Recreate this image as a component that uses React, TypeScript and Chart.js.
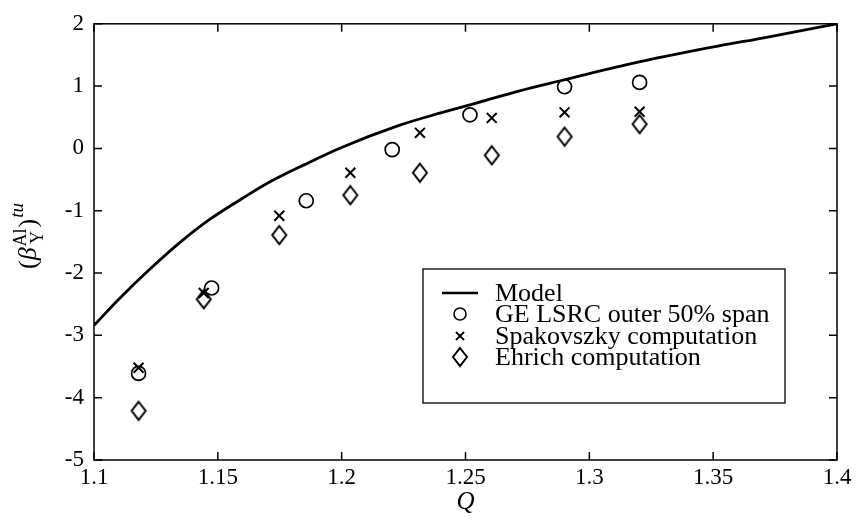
import React, { useEffect, useRef } from 'react';
import { Chart, registerables } from 'chart.js';
Chart.register(...registerables);

const modelQ = [1.1, 1.11, 1.1225, 1.135, 1.1467, 1.16, 1.1709, 1.185, 1.199, 1.2232, 1.24, 1.2554, 1.2715, 1.2888, 1.317, 1.349, 1.371, 1.4];
const modelBeta = [-2.84, -2.42, -1.94, -1.5, -1.14, -0.8, -0.54, -0.26, 0.0, 0.37, 0.57, 0.74, 0.92, 1.09, 1.36, 1.62, 1.78, 2.0];

const geQ = [1.118, 1.1475, 1.1857, 1.2204, 1.2518, 1.29, 1.3203];
const geBeta = [-3.61, -2.24, -0.84, -0.02, 0.54, 0.99, 1.06];

const spakQ = [1.118, 1.1443, 1.1748, 1.2035, 1.2316, 1.2606, 1.29, 1.3203];
const spakBeta = [-3.52, -2.32, -1.08, -0.39, 0.25, 0.49, 0.58, 0.59];

const ehrichQ = [1.118, 1.1443, 1.1748, 1.2035, 1.2316, 1.2606, 1.29, 1.3203];
const ehrichBeta = [-4.21, -2.42, -1.39, -0.75, -0.39, -0.11, 0.19, 0.39];

const legendLabels = ['Model', 'GE LSRC outer 50% span', 'Spakovszky computation', 'Ehrich computation'];

const FONT = "'Liberation Serif', 'Times New Roman', serif";

function makeDiamond(): HTMLCanvasElement {
  const c = document.createElement('canvas');
  c.width = 18;
  c.height = 22;
  const g = c.getContext('2d')!;
  g.strokeStyle = '#000';
  g.lineWidth = 2;
  g.beginPath();
  g.moveTo(9, 2);
  g.lineTo(16, 11);
  g.lineTo(9, 20);
  g.lineTo(2, 11);
  g.closePath();
  g.stroke();
  return c;
}

export default function App() {
  const ref = useRef<HTMLCanvasElement | null>(null);
  useEffect(() => {
    document.body.style.margin = '0';
    const diamond = makeDiamond();
    const toPts = (xs: number[], ys: number[]) => xs.map((x, i) => ({ x, y: ys[i] }));

    const framePlugin = {
      id: 'frame',
      afterDraw(chart: any) {
        const { ctx, chartArea } = chart;
        const { left, right, top, bottom } = chartArea;
        const xs = chart.scales.x;
        const ys = chart.scales.y;
        ctx.save();
        ctx.strokeStyle = '#000';
        ctx.lineWidth = 1.5;
        ctx.strokeRect(left, top, right - left, bottom - top);
        const tl = 8;
        ctx.beginPath();
        xs.ticks.forEach((t: any) => {
          const p = xs.getPixelForValue(t.value);
          ctx.moveTo(p, bottom);
          ctx.lineTo(p, bottom - tl);
          ctx.moveTo(p, top);
          ctx.lineTo(p, top + tl);
        });
        ys.ticks.forEach((t: any) => {
          const p = ys.getPixelForValue(t.value);
          ctx.moveTo(left, p);
          ctx.lineTo(left + tl, p);
          ctx.moveTo(right, p);
          ctx.lineTo(right - tl, p);
        });
        ctx.stroke();

        // x-axis title
        ctx.fillStyle = '#000';
        ctx.font = `italic 25px ${FONT}`;
        ctx.textAlign = 'center';
        ctx.textBaseline = 'middle';
        ctx.fillText('Q', (left + right) / 2, 502);

        // y-axis title (rotated)
        ctx.save();
        ctx.translate(36, 236);
        ctx.rotate(-Math.PI / 2);
        const big = `26px ${FONT}`;
        const bigIt = `italic 26px ${FONT}`;
        const small = `18px ${FONT}`;
        const smallIt = `italic 19px ${FONT}`;
        ctx.textAlign = 'left';
        ctx.textBaseline = 'alphabetic';
        ctx.font = big;
        const wOpen = ctx.measureText('(').width;
        ctx.font = bigIt;
        const wBeta = ctx.measureText('β').width;
        ctx.font = small;
        const wAl = ctx.measureText('Al').width;
        const wY = ctx.measureText('Y').width;
        const wSub = Math.max(wAl, wY);
        ctx.font = big;
        const wClose = ctx.measureText(')').width;
        ctx.font = smallIt;
        const wTu = ctx.measureText('tu').width;
        const total = wOpen + wBeta + 1 + wSub + 1 + wClose + 1 + wTu;
        let x = -total / 2;
        ctx.font = big;
        ctx.fillText('(', x, 0);
        x += wOpen;
        ctx.font = bigIt;
        ctx.fillText('β', x, 0);
        x += wBeta + 1;
        ctx.font = small;
        ctx.fillText('Al', x, -10);
        ctx.fillText('Y', x + (wAl - wY) / 2, 7);
        x += wSub + 1;
        ctx.font = big;
        ctx.fillText(')', x, 0);
        x += wClose + 1;
        ctx.font = smallIt;
        ctx.fillText('tu', x, -13);
        ctx.restore();

        // legend
        const bx = 423, by = 269, bw = 362, bh = 134;
        ctx.lineWidth = 1.3;
        ctx.strokeRect(bx, by, bw, bh);
        const rows = [293, 314, 336, 357];
        const mx = 460;
        const tx = 495;
        ctx.lineWidth = 2.6;
        ctx.beginPath();
        ctx.moveTo(442, rows[0]);
        ctx.lineTo(478, rows[0]);
        ctx.stroke();
        ctx.lineWidth = 1.6;
        ctx.beginPath();
        ctx.arc(mx, rows[1], 6, 0, Math.PI * 2);
        ctx.stroke();
        ctx.lineWidth = 1.8;
        ctx.beginPath();
        const cr = 4;
        ctx.moveTo(mx - cr, rows[2] - cr);
        ctx.lineTo(mx + cr, rows[2] + cr);
        ctx.moveTo(mx + cr, rows[2] - cr);
        ctx.lineTo(mx - cr, rows[2] + cr);
        ctx.stroke();
        ctx.drawImage(diamond, Math.round(mx - diamond.width / 2), Math.round(rows[3] - diamond.height / 2));
        ctx.font = `26px ${FONT}`;
        ctx.textAlign = 'left';
        ctx.textBaseline = 'middle';
        legendLabels.forEach((lab, i) => ctx.fillText(lab, tx, rows[i] + 1));
        ctx.restore();
      },
    };

    const chart = new Chart(ref.current!, {
      type: 'scatter',
      data: {
        datasets: [
          {
            label: legendLabels[0],
            data: toPts(modelQ, modelBeta),
            showLine: true,
            borderColor: '#000',
            borderWidth: 2.8,
            pointRadius: 0,
            cubicInterpolationMode: 'monotone',
            fill: false,
          },
          {
            label: legendLabels[1],
            data: toPts(geQ, geBeta),
            pointStyle: 'circle',
            pointRadius: 7,
            borderColor: '#000',
            backgroundColor: 'rgba(0,0,0,0)',
            borderWidth: 1.7,
          },
          {
            label: legendLabels[2],
            data: toPts(spakQ, spakBeta),
            pointStyle: 'crossRot',
            pointRadius: 7,
            borderColor: '#000',
            borderWidth: 2,
          },
          {
            label: legendLabels[3],
            data: toPts(ehrichQ, ehrichBeta),
            pointStyle: diamond as any,
            pointRadius: 9,
          },
        ],
      },
      options: {
        responsive: false,
        animation: false,
        devicePixelRatio: 1,
        layout: { padding: { top: 16, right: 19, left: 0, bottom: 0 } },
        plugins: { legend: { display: false }, tooltip: { enabled: false } },
        scales: {
          x: {
            type: 'linear',
            min: 1.1,
            max: 1.4,
            grid: { display: false, tickLength: 0 },
            border: { display: false },
            ticks: {
              stepSize: 0.05,
              color: '#000',
              padding: 4,
              font: { family: FONT, size: 23 },
              maxRotation: 0,
              callback: (v: any) => String(Math.round(Number(v) * 100) / 100),
            },
            afterFit: (s: any) => {
              s.height = 65;
            },
          },
          y: {
            type: 'linear',
            min: -5,
            max: 2,
            grid: { display: false, tickLength: 0 },
            border: { display: false },
            ticks: {
              stepSize: 1,
              color: '#000',
              padding: 10,
              font: { family: FONT, size: 23 },
              callback: (v: any) => String(Math.round(Number(v))),
            },
            afterFit: (s: any) => {
              s.width = 94;
            },
          },
        },
      },
      plugins: [framePlugin],
    } as any);
    return () => chart.destroy();
  }, []);
  return (
    <div style={{ width: 856, height: 525 }}>
      <canvas ref={ref} width={856} height={525} />
    </div>
  );
}
